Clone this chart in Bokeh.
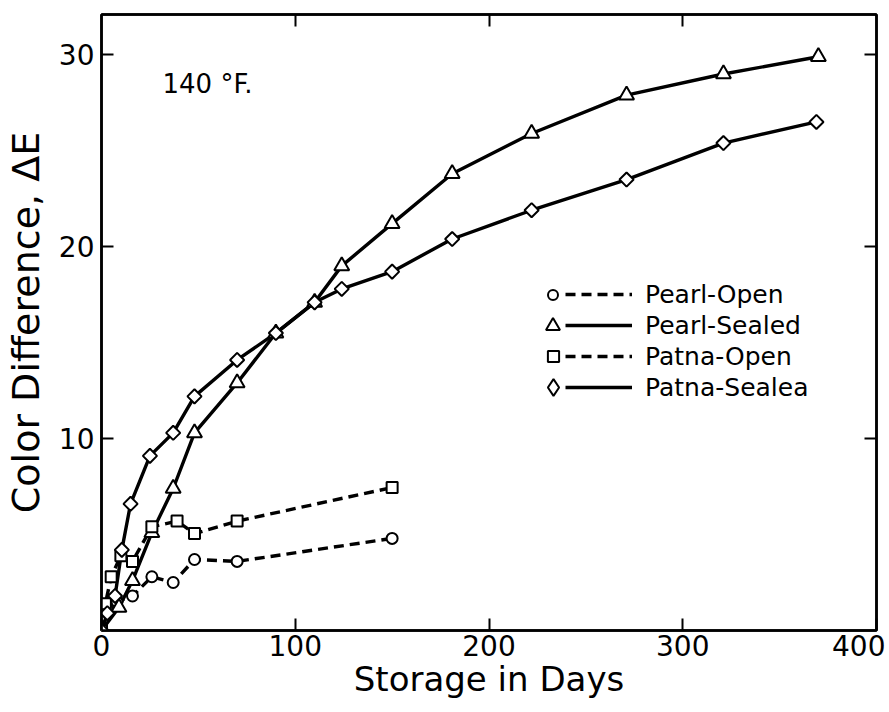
import numpy as np
from bokeh.plotting import figure
from bokeh.models import Range1d, LinearAxis, FixedTicker, Legend, LegendItem, Label
from bokeh.core.properties import value
from bokeh.embed import file_html
from bokeh.resources import INLINE

# ---- data ----
days_pearl_open = [0, 3, 8, 16, 26, 37, 48, 70, 150]
de_pearl_open = [0, 1.1, 1.5, 1.8, 2.8, 2.5, 3.7, 3.6, 4.8]

days_pearl_sealed = [0, 9, 16, 26, 37, 48, 70, 90, 110, 124, 150, 181, 222, 271, 321, 370]
de_pearl_sealed = [0, 1.2, 2.6, 5.1, 7.4, 10.3, 12.9, 15.5, 17.1, 19.0, 21.2, 23.8, 25.9, 27.9, 29.0, 29.9]

days_patna_open = [0, 2, 5, 10, 16, 26, 39, 48, 70, 150]
de_patna_open = [0, 1.4, 2.8, 3.9, 3.6, 5.4, 5.7, 5.05, 5.7, 7.45]

days_patna_sealed = [0, 3, 7, 10.5, 15, 25, 37, 48, 70, 90, 110, 124, 150, 181, 222, 271, 321, 369]
de_patna_sealed = [0, 0.9, 1.8, 4.2, 6.6, 9.1, 10.3, 12.2, 14.1, 15.5, 17.1, 17.8, 18.7, 20.4, 21.9, 23.5, 25.4, 26.5]

series_names = ["Pearl-Open", "Pearl-Sealed", "Patna-Open", "Patna-Sealea"]
x_ticks = [0, 100, 200, 300, 400]
y_ticks = [10, 20, 30]
top_ticks = [100, 200, 300]
annotation_text = "140 °F."
x_label = "Storage in Days"
y_label = "Color Difference, ΔE"

FONT = "DejaVu Sans"

p = figure(width=885, height=708, output_backend="svg", toolbar_location=None,
           x_range=Range1d(0, 400), y_range=Range1d(0, 32.1),
           min_border_left=97, min_border_right=9, min_border_top=14, min_border_bottom=78)
p.background_fill_color = "white"
p.border_fill_color = "white"
p.grid.visible = False
p.outline_line_color = "black"
p.outline_line_width = 2.5


def style_axis(ax, font_size="28px"):
    ax.axis_line_color = "black"
    ax.axis_line_width = 2.5
    ax.major_tick_in = 12
    ax.major_tick_out = 0
    ax.major_tick_line_width = 2
    ax.major_tick_line_color = "black"
    ax.minor_tick_line_color = None
    ax.major_label_text_font = FONT
    ax.major_label_text_font_size = font_size
    ax.major_label_text_color = "black"
    ax.axis_label_text_font = FONT
    ax.axis_label_text_font_style = "normal"
    ax.axis_label_text_color = "black"


xa = p.xaxis[0]
ya = p.yaxis[0]
style_axis(xa)
style_axis(ya)
xa.ticker = FixedTicker(ticks=x_ticks)
ya.ticker = FixedTicker(ticks=y_ticks)
xa.axis_label = x_label
ya.axis_label = y_label
xa.axis_label_text_font_size = "34px"
ya.axis_label_text_font_size = "38px"
xa.major_label_standoff = 4
ya.major_label_standoff = 7
xa.axis_label_standoff = 0
ya.axis_label_standoff = 8

top_ax = LinearAxis(ticker=FixedTicker(ticks=top_ticks),
                    major_label_overrides={t: "" for t in top_ticks})
style_axis(top_ax, "1px")
top_ax.major_label_standoff = 0
p.add_layout(top_ax, "above")

right_ax = LinearAxis(ticker=FixedTicker(ticks=y_ticks),
                      major_label_overrides={t: "" for t in y_ticks})
style_axis(right_ax, "1px")
right_ax.major_label_standoff = 0
p.add_layout(right_ax, "right")

# ---- series ----
LW = 3.4
DASH = "10 6"
series = [
    (days_pearl_open, de_pearl_open, DASH, "circle", 11, 0),
    (days_pearl_sealed, de_pearl_sealed, "solid", "triangle", 15, 0),
    (days_patna_open, de_patna_open, DASH, "square", 11, 0),
    (days_patna_sealed, de_patna_sealed, "solid", "square", 10, np.pi / 4),
]

line_rs = []
for xs, ys, dash, mk, sz, ang in series:
    line_rs.append(p.line(xs, ys, line_color="black", line_width=LW, line_dash=dash))

# a plain diamond under the rotated squares: hidden in the plot, used as the legend symbol
diamond_r = p.scatter(days_patna_sealed, de_patna_sealed, marker="diamond", size=13,
                      fill_color="white", line_color="black", line_width=2)

marker_rs = []
for xs, ys, dash, mk, sz, ang in series:
    marker_rs.append(p.scatter(xs, ys, marker=mk, size=sz, angle=ang,
                               fill_color="white", line_color="black", line_width=2))

legend_marker_rs = [marker_rs[0], marker_rs[1], marker_rs[2], diamond_r]
legend_marker_sizes = [10, 14, 11, 17]

# ---- legend layout (frame-relative screen px) ----
ROW_H = 30
ROW_SP = 1
ROW1_CENTER = 336           # px above the frame bottom
MARK_X = 452                # centre of the symbols, px right of frame left
LINE_X = 464

n_rows = len(series_names)
legend_h = n_rows * ROW_H + (n_rows - 1) * ROW_SP
leg_lines = Legend(items=[LegendItem(label=value(n), renderers=[l]) for n, l in zip(series_names, line_rs)],
                   location=(LINE_X, int(ROW1_CENTER + ROW_H / 2 - legend_h)),
                   glyph_width=67, glyph_height=ROW_H, label_height=ROW_H,
                   spacing=ROW_SP, padding=0, margin=0, border_line_color=None,
                   background_fill_alpha=0, label_text_font=FONT, label_text_font_size="25px",
                   label_standoff=13, label_text_color="black")
p.add_layout(leg_lines)

for i, (r, s) in enumerate(zip(legend_marker_rs, legend_marker_sizes)):
    box = int(round(s / 0.4))
    cy = ROW1_CENTER - i * (ROW_H + ROW_SP)
    leg = Legend(items=[LegendItem(label=value(" "), renderers=[r])],
                 location=(int(MARK_X - box / 2), int(cy - box / 2)),
                 glyph_width=box, glyph_height=box, label_height=1,
                 padding=0, margin=0, border_line_color=None,
                 background_fill_alpha=0, label_text_font_size="4px", label_standoff=0)
    p.add_layout(leg)

p.add_layout(Label(x=31.5, y=27.7, text=annotation_text, text_font=FONT,
                   text_font_size="26px", text_color="black"))

open("out.html", "w").write(file_html(p, INLINE))
